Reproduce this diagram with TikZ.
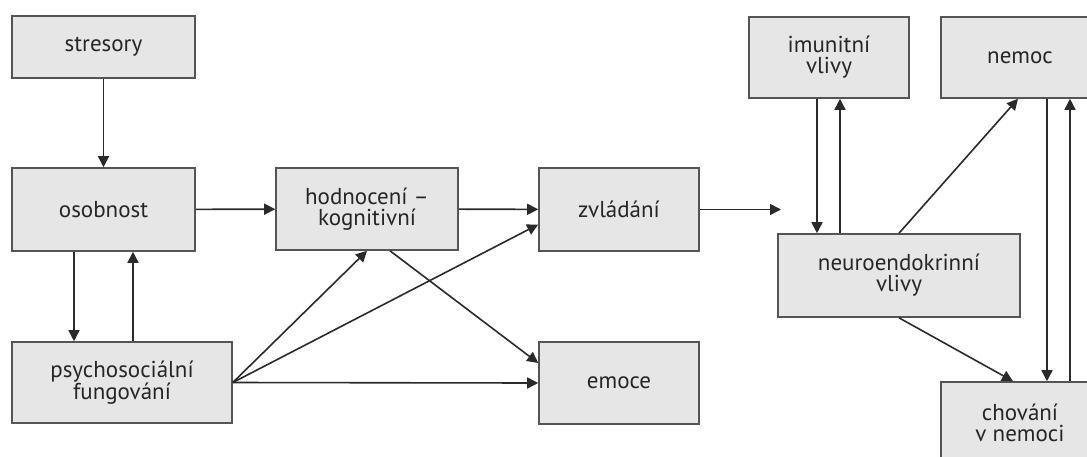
\documentclass[tikz,border=0pt]{standalone}
\usepackage{fontspec}
\setmainfont{PT Sans}
\usetikzlibrary{arrows.meta,calc}
\definecolor{boxfill}{HTML}{E6E6E6}
\definecolor{boxline}{HTML}{555555}
\definecolor{txt}{HTML}{262626}
\definecolor{arr}{HTML}{2A2A2A}
\tikzset{
  box/.style={draw=boxline, line width=1.6pt, fill=boxfill, rectangle, inner sep=0pt,
    align=center, text=txt, font=\fontsize{23}{21}\selectfont},
  conn/.style={draw=arr, line width=1.6pt, -{Triangle[length=11pt,width=11pt]}}
}
\begin{document}
\begin{tikzpicture}[x=1pt,y=-1pt]
\useasboundingbox (0,0) rectangle (1087,456);
\clip (0,0) rectangle (1087,456);
\fill[white] (0,0) rectangle (1087,456);
% left part
\node[box, minimum width=183pt, minimum height=62pt] (stres) at (103.5,47) {stresory};
\node[box, minimum width=183pt, minimum height=83pt] (osob) at (103.5,209.5) {osobnost};
\node[box, minimum width=220pt, minimum height=81pt] (psych) at (122,382.5) {psychosociální\\fungování};
\node[box, minimum width=182pt, minimum height=82pt] (hodn) at (367,209) {hodnocení –\\kognitivní};
\node[box, minimum width=160pt, minimum height=83pt] (zvl) at (619,209.5) {zvládání};
\node[box, minimum width=160pt, minimum height=82pt] (emoce) at (619,383) {emoce};
% right part
\node[box, minimum width=160pt, minimum height=81pt] (imun) at (829,57.5) {imunitní\\vlivy};
\node[box, minimum width=158pt, minimum height=81pt] (nemoc) at (1020,57.5) {nemoc};
\node[box, minimum width=242pt, minimum height=83pt] (neuro) at (899,275.5) {neuroendokrinní\\vlivy};
\node[box, minimum width=158pt, minimum height=81pt] (chov) at (1020,422.5) {chování\\v nemoci};
\coordinate (zend) at (781,209.5);
% connectors left
\draw[conn] (stres) -- (osob);
\draw[conn] (osob.south -| 74,0) -- (psych.north -| 74,0);
\draw[conn] (psych.north -| 133,0) -- (osob.south -| 133,0);
\draw[conn] (osob) -- (hodn);
\draw[conn] (hodn) -- (zvl);
\draw[conn] (psych.east) -- (hodn.south);
\draw[conn] (psych.east) -- ([yshift=-15pt]zvl.west);
\draw[conn] (psych.east) -- (emoce.west);
\draw[conn] ([xshift=23pt]hodn.south) -- ([yshift=20pt]emoce.west);
\draw[conn] (zvl) -- (zend);
% connectors right
\draw[conn] (imun.south -| 817,0) -- (neuro.north -| 817,0);
\draw[conn] (neuro.north -| 840,0) -- (imun.south -| 840,0);
\draw[conn] (neuro.north) -- ([xshift=-2pt]nemoc.south);
\draw[conn] (nemoc.south -| 1047,0) -- (chov.north -| 1047,0);
\draw[conn] (chov.north -| 1070,0) -- (nemoc.south -| 1070,0);
\draw[conn] (neuro.south) -- ([xshift=-7pt]chov.north);
\end{tikzpicture}
\end{document}
